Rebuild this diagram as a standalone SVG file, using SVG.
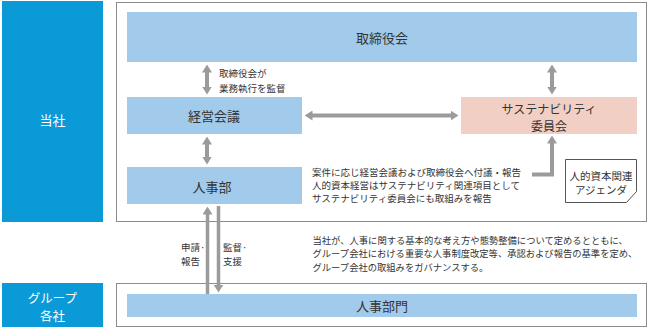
<svg xmlns="http://www.w3.org/2000/svg" width="648" height="328" viewBox="0 0 648 328">
<defs>
<style>
text{font-family:"Noto Sans CJK JP","Noto Sans",sans-serif;fill:#333;}
.side{fill:#0a9ad8;}
.frame{fill:#fff;stroke:#8c8c8c;stroke-width:1;}
.blue{fill:#a2cbeb;}
.pink{fill:#f1cfc4;}
.ttl{font-size:13px;text-anchor:middle;dominant-baseline:central;}
.wt{fill:#fff;}
.sm{font-size:9.5px;dominant-baseline:central;}
.arr{stroke:#9b9b9b;stroke-width:4;fill:none;}
.arr2{stroke:#9b9b9b;stroke-width:3.5;fill:none;}
</style>
<marker id="ah" viewBox="0 0 8 10" refX="0.5" refY="5" markerWidth="8" markerHeight="10" markerUnits="userSpaceOnUse" orient="auto-start-reverse">
<path d="M0,0 L8,5 L0,10 z" fill="#9b9b9b"/>
</marker>
</defs>
<rect width="648" height="328" fill="#fff"/>

<g id="side-toshya">
<rect class="side" x="2" y="1" width="101" height="221"/>
<text class="ttl wt" x="52.5" y="119">当社</text>
</g>
<g id="side-group">
<rect class="side" x="2" y="283" width="101" height="44"/>
<text class="ttl wt" style="font-size:12.5px"><tspan x="52.5" y="297">グループ</tspan><tspan x="52.5" y="315">各社</tspan></text>
</g>

<g id="frame-toshya">
<rect class="frame" x="116.5" y="2.5" width="530" height="219"/>
</g>
<g id="frame-group">
<rect class="frame" x="116.5" y="283.5" width="530" height="43"/>
</g>

<g id="board">
<rect class="blue" x="127" y="12" width="510" height="50"/>
<text class="ttl" x="382" y="37">取締役会</text>
</g>
<g id="mgmt">
<rect class="blue" x="127" y="97" width="175" height="37"/>
<text class="ttl" x="214" y="115.5">経営会議</text>
</g>
<g id="hr">
<rect class="blue" x="127" y="167" width="175" height="37"/>
<text class="ttl" x="212" y="186">人事部</text>
</g>
<g id="sus">
<rect class="pink" x="461" y="97" width="176" height="37"/>
<text class="ttl" style="font-size:12px"><tspan x="549" y="108">サステナビリティ</tspan><tspan x="549" y="124.5">委員会</tspan></text>
</g>
<g id="hr-group">
<rect class="blue" x="127" y="294" width="510" height="23"/>
<text class="ttl" x="382" y="305.5">人事部門</text>
</g>
<g id="agenda">
<path d="M565.5,159.5 H636.5 V191.5 L626.5,202.5 H565.5 Z" fill="#fff" stroke="#555" stroke-width="1"/>
<text class="sm" text-anchor="middle" style="font-size:10.5px"><tspan x="601" y="175">人的資本関連</tspan><tspan x="601" y="189">アジェンダ</tspan></text>
</g>

<g id="connectors">
<line class="arr" x1="207" y1="72" x2="207" y2="87" marker-start="url(#ah)" marker-end="url(#ah)"/>
<line class="arr" x1="207" y1="144" x2="207" y2="157" marker-start="url(#ah)" marker-end="url(#ah)"/>
<line class="arr" x1="312" y1="115.5" x2="451" y2="115.5" marker-start="url(#ah)" marker-end="url(#ah)"/>
<line class="arr" x1="552" y1="72" x2="552" y2="87" marker-start="url(#ah)" marker-end="url(#ah)"/>
<path class="arr" d="M532,174.5 H552 V143" marker-end="url(#ah)"/>
<line class="arr2" x1="207.5" y1="294" x2="207.5" y2="214" marker-end="url(#ah)"/>
<line class="arr2" x1="218.5" y1="206" x2="218.5" y2="285" marker-end="url(#ah)"/>
</g>

<g id="labels">
<text class="sm"><tspan x="219" y="73">取締役会が</tspan><tspan x="219" y="87.5">業務執行を監督</tspan></text>
<text class="sm"><tspan x="181" y="247">申請·</tspan><tspan x="181" y="261">報告</tspan></text>
<text class="sm"><tspan x="223" y="247">監督·</tspan><tspan x="223" y="261">支援</tspan></text>
<text class="sm"><tspan x="312" y="172">案件に応じ経営会議および取締役会へ付議・報告</tspan><tspan x="312" y="185">人的資本経営はサステナビリティ関連項目として</tspan><tspan x="312" y="198">サステナビリティ委員会にも取組みを報告</tspan></text>
<text class="sm" style="font-size:9.3px"><tspan x="312.5" y="239.5">当社が、人事に関する基本的な考え方や態勢整備について定めるとともに、</tspan><tspan x="312.5" y="253">グループ会社における重要な人事制度改定等、承認および報告の基準を定め、</tspan><tspan x="312.5" y="266.5">グループ会社の取組みをガバナンスする。</tspan></text>
</g>
</svg>
